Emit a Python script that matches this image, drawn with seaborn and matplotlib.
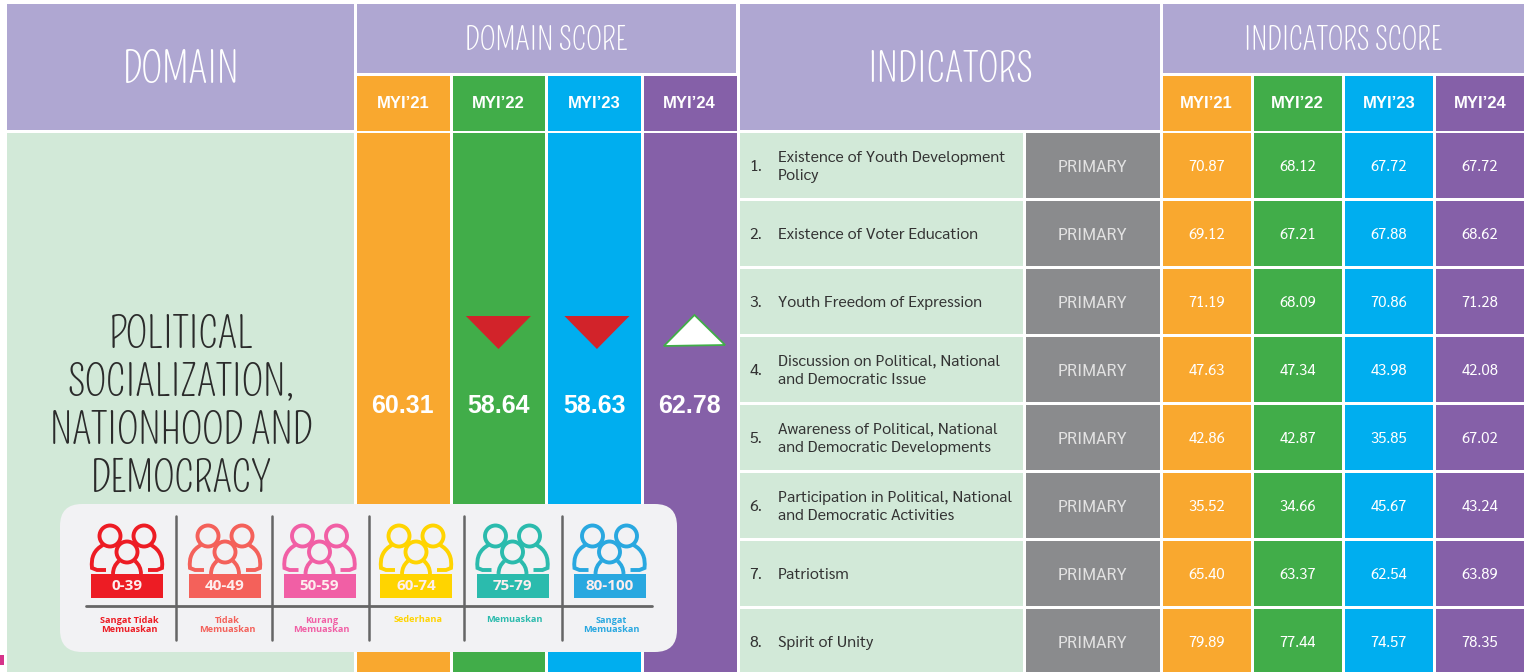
import matplotlib
matplotlib.use("Agg")
import matplotlib.pyplot as plt
import numpy as np
import seaborn as sns
from matplotlib.colors import ListedColormap
from matplotlib.patches import Circle, FancyBboxPatch, PathPatch, Polygon, Rectangle
from matplotlib.path import Path

W, H = 1524, 672

years = ["MYI\u201921", "MYI\u201922", "MYI\u201923", "MYI\u201924"]
domain_scores = [60.31, 58.64, 58.63, 62.78]
domain_trend = [None, "down", "down", "up"]
domain_lines = ["POLITICAL", "SOCIALIZATION,", "NATIONHOOD AND", "DEMOCRACY"]

indicators = [
    "Existence of Youth Development\nPolicy",
    "Existence of Voter Education",
    "Youth Freedom of Expression",
    "Discussion on Political, National\nand Democratic Issue",
    "Awareness of Political, National\nand Democratic Developments",
    "Participation in Political, National\nand Democratic Activities",
    "Patriotism",
    "Spirit of Unity",
]
scores_21 = [70.87, 69.12, 71.19, 47.63, 42.86, 35.52, 65.40, 79.89]
scores_22 = [68.12, 67.21, 68.09, 47.34, 42.87, 34.66, 63.37, 77.44]
scores_23 = [67.72, 67.88, 70.86, 43.98, 35.85, 45.67, 62.54, 74.57]
scores_24 = [67.72, 68.62, 71.28, 42.08, 67.02, 43.24, 63.89, 78.35]

legend_ranges = ["0-39", "40-49", "50-59", "60-74", "75-79", "80-100"]
legend_labels = ["Sangat Tidak\nMemuaskan", "Tidak\nMemuaskan", "Kurang\nMemuaskan",
                 "Sederhana", "Memuaskan", "Sangat\nMemuaskan"]
legend_colors = ["#ed1c24", "#f4615a", "#f15fa5", "#ffd400", "#2bbbad", "#29a8e0"]

year_colors = ["#f9a82f", "#41ad49", "#00aeef", "#8560a8"]
LAVENDER = "#afa7d2"
MINT = "#d2e9d8"
GREY = "#8a8b8d"
CARD = "#f2f2f4"
TITLE_FONT = ["Pompiere", "Lato"]
BODY_FONT = ["Sarabun", "Noto Sans"]
BOLD_FONT = "Liberation Sans"
GAP = 2.0

sns.set_theme(style="white")
fig = plt.figure(figsize=(W / 100, H / 100), dpi=100, facecolor="white")


def px_axes(x0, y0, x1, y1, z=1):
    return fig.add_axes([x0 / W, 1 - y1 / H, (x1 - x0) / W, (y1 - y0) / H], zorder=z)


def nudge_down(ax, px, row_px):
    # the fonts sit high in their line box, heatmap centres them by that box
    for t in ax.texts:
        t.set_y(t.get_position()[1] + px / row_px)


def year_grid(values, box, size, bold=True, labels=None):
    # one colour per year column, the numbers go on as annotations
    values = np.atleast_2d(values)
    ax = px_axes(*box)
    colours = np.tile(np.arange(4), (values.shape[0], 1))
    annot = np.atleast_2d(labels) if labels is not None else values
    sns.heatmap(colours, ax=ax, cmap=ListedColormap(year_colors), vmin=0, vmax=3, cbar=False,
                annot=annot, fmt="" if labels is not None else ".2f", linewidths=GAP, linecolor="white",
                xticklabels=False, yticklabels=False,
                annot_kws=dict(color="white", fontsize=size, fontweight="bold" if bold else "normal",
                               family=BOLD_FONT if bold else BODY_FONT))
    return ax


def single_column(labels, box, colour, size, text_colour):
    ax = px_axes(*box)
    blank = np.zeros((len(labels), 1))
    sns.heatmap(blank, ax=ax, cmap=ListedColormap([colour]), cbar=False,
                annot=np.array(labels).reshape(-1, 1), fmt="", linewidths=GAP, linecolor="white",
                xticklabels=False, yticklabels=False,
                annot_kws=dict(color=text_colour, fontsize=size, family=BODY_FONT))
    return ax


# plain backing sheet for header blocks
base = px_axes(0, 0, W, H, z=0)
base.set_xlim(0, W)
base.set_ylim(H, 0)
base.axis("off")
header_blocks = [(7, 4, 347, 126), (357, 4, 379, 69), (740, 4, 420, 126), (1163, 4, 361, 69)]
for x, y, w, h in header_blocks:
    base.add_patch(Rectangle((x, y), w, h, color=LAVENDER, lw=0))
base.add_patch(Rectangle((7, 133), 347, 539, color=MINT, lw=0))
base.add_patch(Rectangle((0, 655), 4, 10, color="#d6338a", lw=0))

title_kw = dict(color="white", family=TITLE_FONT, ha="center", va="center")
base.text(181, 70, "DOMAIN", fontsize=29.5, **title_kw)
base.text(546, 40, "DOMAIN SCORE", fontsize=22.4, **title_kw)
base.text(950, 70, "INDICATORS", fontsize=29, **title_kw)
base.text(1343, 40, "INDICATORS SCORE", fontsize=22, **title_kw)
for i, line in enumerate(domain_lines):
    base.text(181, 335 + 48 * i, line, color="#2b2b2b", family=TITLE_FONT, ha="center", va="center", fontsize=30.5)

# year headers and score strips
year_grid(np.zeros((1, 4)), (355, 74, 737.5, 131.5), 12, labels=years)
nudge_down(fig.axes[-1], 1, 57.5)
year_grid(np.zeros((1, 4)), (1161, 74, 1525.5, 131.5), 12, labels=years)
nudge_down(fig.axes[-1], 1, 57.5)

strip = year_grid(domain_scores, (355, 131, 737.5, 677), 18)
strip_h = 546
nudge_down(strip, 2, strip_h)
for i, trend in enumerate(domain_trend):
    if trend == "down":
        shift = 0.0 if i == 1 else 0.03
        strip.add_patch(Polygon([(i + 0.16 + shift, (316 - 131) / strip_h), (i + 0.84 + shift, (316 - 131) / strip_h),
                                 (i + 0.5 + shift, (349 - 131) / strip_h)], color="#d2232a", lw=0))
    elif trend == "up":
        strip.add_patch(Polygon([(i + 0.23, (346 - 131) / strip_h), (i + 0.87, (345 - 131) / strip_h),
                                 (i + 0.55, (315 - 131) / strip_h)], facecolor="white",
                                edgecolor=year_colors[1], lw=1.3))

# indicator table
scores = np.column_stack([scores_21, scores_22, scores_23, scores_24])
score_ax = year_grid(scores, (1161, 131, 1525.5, 675), 10.8, bold=False)
nudge_down(score_ax, 2, 68)
primary_ax = single_column(["PRIMARY"] * 8, (1024, 131, 1161, 675), GREY, 12.6, "#e2e2e2")
nudge_down(primary_ax, 2, 68)
name_ax = single_column([""] * 8, (738, 131, 1024, 675), MINT, 10.5, "#333333")
for i, name in enumerate(indicators):
    name_ax.text(0.04, i + 0.53, f"{i + 1}.", transform=name_ax.get_yaxis_transform(), ha="left", va="center",
                 fontsize=11.5, family=BODY_FONT, color="#333333")
    name_ax.text(0.14, i + 0.53, name, transform=name_ax.get_yaxis_transform(), ha="left", va="center",
                 fontsize=11.5, family=BODY_FONT, color="#333333", linespacing=1.4)

# rating card laid over the strips
card = px_axes(0, 0, W, H, z=5)
card.set_xlim(0, W)
card.set_ylim(H, 0)
card.axis("off")
card.add_patch(FancyBboxPatch((80, 524), 577, 108, boxstyle="round,pad=20,rounding_size=22",
                              facecolor=CARD, edgecolor="none", lw=0))

box_centres = [127, 225, 319.5, 416, 512.5, 609.5]
dividers = [176, 272, 369, 464, 562]


def group_icon(ax, cx, colour):
    kw = dict(facecolor="none", edgecolor=colour, lw=2.8)
    for side in (-1, 1):
        ax.add_patch(Circle((cx + side * 17, 536), 10.5, **kw))
        body = Path([(cx + side * 24, 545), (cx + side * 37, 552), (cx + side * 35, 568),
                     (cx + side * 30, 570), (cx + side * 21, 570)],
                    [Path.MOVETO, Path.CURVE3, Path.CURVE3, Path.LINETO, Path.LINETO])
        ax.add_patch(PathPatch(body, **kw))
        front = Path([(cx + side * 8, 561), (cx + side * 14, 566), (cx + side * 14, 574)],
                     [Path.MOVETO, Path.CURVE3, Path.CURVE3])
        ax.add_patch(PathPatch(front, **kw))
    ax.add_patch(Circle((cx, 552), 10.5, facecolor=CARD, edgecolor=colour, lw=2.8, zorder=3))


for cx, rng, label, colour in zip(box_centres, legend_ranges, legend_labels, legend_colors):
    group_icon(card, cx, colour)
    card.add_patch(Rectangle((cx - 36, 574), 72, 24, color=colour, lw=0, zorder=4))
    card.text(cx, 586, rng, color="#fdeeee", fontsize=11, fontweight="bold", family="Open Sans",
              ha="center", va="center", zorder=5)
    y = 625 if "\n" in label else 620
    card.text(cx + 2, y, label, color=colour, fontsize=6.6, fontweight="bold", family="Open Sans",
              ha="center", va="center", linespacing=0.95)
card.plot([86, 652], [606, 606], color="#666666", lw=2)
for x in dividers:
    card.plot([x, x], [516, 640], color="#666666", lw=1.8)

fig.savefig("out.png", dpi=100)
